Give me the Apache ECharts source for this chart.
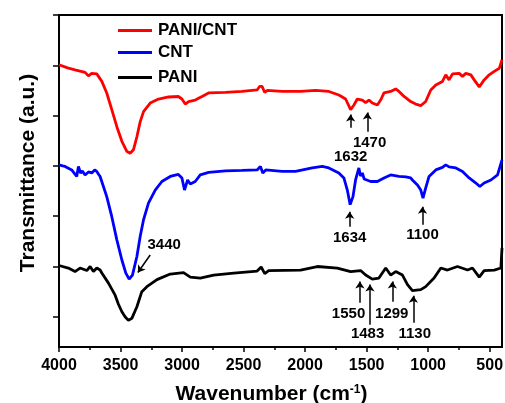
<!DOCTYPE html>
<html>
<head>
<meta charset="utf-8">
<script src="https://cdn.jsdelivr.net/npm/echarts@6/dist/echarts.min.js"></script>
<style>
html,body{margin:0;padding:0;background:#fff;}
#chart{width:505px;height:403px;}
</style>
</head>
<body>
<div id="chart"></div>
<script>
// ---- data (wavenumber, transmittance offset units) ----
var seriesNames = ['PANI/CNT', 'CNT', 'PANI'];
var seriesColors = ['#ff0000', '#0000ff', '#000000'];

var paniCntData = [[4000,5.01],[3930,4.95],[3870,4.91],[3788,4.86],[3761,4.79],[3734,4.84],[3693,4.83],[3652,4.68],[3612,4.45],[3571,4.12],[3530,3.78],[3489,3.49],[3449,3.29],[3422,3.25],[3395,3.32],[3367,3.58],[3340,3.88],[3313,4.08],[3259,4.25],[3191,4.33],[3110,4.37],[3030,4.38],[3001,4.33],[2974,4.23],[2947,4.28],[2893,4.31],[2838,4.38],[2784,4.45],[2648,4.46],[2512,4.48],[2390,4.51],[2370,4.58],[2350,4.58],[2328,4.46],[2309,4.50],[2187,4.48],[2037,4.48],[1915,4.50],[1807,4.48],[1726,4.41],[1671,4.33],[1630,4.12],[1603,4.21],[1576,4.33],[1535,4.31],[1508,4.26],[1481,4.31],[1454,4.25],[1413,4.21],[1386,4.31],[1359,4.45],[1305,4.48],[1264,4.53],[1237,4.48],[1196,4.38],[1142,4.28],[1101,4.23],[1060,4.20],[1046,4.17],[1020,4.28],[979,4.51],[938,4.61],[884,4.68],[857,4.81],[830,4.71],[802,4.83],[748,4.84],[721,4.78],[694,4.84],[653,4.81],[626,4.71],[585,4.57],[545,4.71],[504,4.81],[463,4.88],[422,4.94],[400,5.11]];

var cntData = [[4000,3.02],[3970,3.00],[3951,2.99],[3920,2.95],[3897,2.92],[3875,2.85],[3856,2.79],[3842,2.99],[3825,2.86],[3810,2.90],[3788,2.82],[3760,2.88],[3734,2.86],[3710,2.92],[3693,2.89],[3680,2.84],[3666,2.79],[3639,2.59],[3612,2.39],[3571,1.99],[3530,1.53],[3489,1.13],[3457,0.87],[3430,0.75],[3403,0.83],[3367,1.20],[3340,1.60],[3313,1.93],[3273,2.26],[3218,2.52],[3164,2.69],[3096,2.79],[3030,2.83],[3001,2.76],[2980,2.52],[2955,2.72],[2933,2.64],[2893,2.69],[2852,2.82],[2784,2.87],[2648,2.90],[2512,2.91],[2390,2.92],[2363,2.99],[2344,2.86],[2320,2.92],[2187,2.89],[2078,2.89],[1942,2.96],[1861,2.99],[1807,2.96],[1726,2.86],[1685,2.76],[1657,2.52],[1634,2.23],[1611,2.39],[1590,2.72],[1563,2.96],[1550,2.80],[1535,2.86],[1520,2.74],[1508,2.76],[1467,2.69],[1413,2.69],[1359,2.76],[1305,2.82],[1237,2.79],[1182,2.78],[1142,2.76],[1128,2.72],[1087,2.62],[1060,2.52],[1042,2.36],[1025,2.52],[993,2.79],[938,2.92],[884,2.97],[857,3.02],[830,2.98],[775,2.96],[721,2.89],[667,2.76],[612,2.66],[580,2.59],[545,2.66],[490,2.72],[436,2.82],[400,3.12]];

var paniData = [[4000,1.02],[3924,0.97],[3870,0.90],[3829,0.97],[3774,0.92],[3747,1.00],[3720,0.90],[3693,0.97],[3666,0.93],[3652,0.87],[3598,0.67],[3544,0.43],[3517,0.25],[3489,0.10],[3463,0.00],[3436,-0.07],[3408,-0.03],[3367,0.20],[3327,0.50],[3286,0.60],[3204,0.74],[3096,0.85],[2988,0.88],[2933,0.79],[2852,0.77],[2743,0.83],[2580,0.87],[2390,0.91],[2357,0.99],[2328,0.86],[2296,0.92],[2037,0.93],[1901,1.00],[1738,0.97],[1630,0.90],[1549,0.92],[1508,0.83],[1454,0.75],[1400,0.77],[1345,0.97],[1305,0.83],[1264,0.90],[1209,0.83],[1168,0.64],[1128,0.52],[1060,0.54],[1020,0.60],[952,0.77],[897,0.97],[843,0.93],[762,1.00],[680,0.93],[640,0.97],[585,0.79],[545,0.92],[463,0.93],[409,0.97],[400,1.37]];

var xMajorTicks = [500,1000,1500,2000,2500,3000,3500,4000];
var xMinorTicks = [750,1250,1750,2250,2750,3250,3750];
var yTicks = [0,1,2,3,4,5,6];

// annotations: arrow tail, arrow head, label text, label position
var annTail = [[1630,3.76],[1494,3.68],[1638,1.79],[1046,1.83],[3259,1.23],[1555,0.28],[1473,-0.16],[1291,0.30],[1120,-0.12]];
var annHead = [[1630,4.02],[1494,4.06],[1638,2.09],[1046,2.19],[3359,0.88],[1555,0.70],[1473,0.64],[1291,0.70],[1120,0.42]];
var annText = ['1632','1470','1634','1100','3440','1550','1483','1299','1130'];
var annTextPos = [[1630,3.18],[1476,3.46],[1638,1.57],[1046,1.63],[3145,1.43],[1647,0.06],[1492,-0.34],[1296,0.06],[1109,-0.34]];

var FONT = 'Liberation Sans, Arial, Helvetica, sans-serif';

var chart = echarts.init(document.getElementById('chart'), null, {renderer: 'canvas'});

var lineSeries = [paniCntData, cntData, paniData].map(function (d, i) {
  return {
    name: seriesNames[i],
    type: 'line',
    data: d,
    showSymbol: false,
    symbol: 'none',
    lineStyle: {color: seriesColors[i], width: 2.8},
    itemStyle: {color: seriesColors[i]},
    z: 3 - i + 2,
    silent: true,
    animation: false
  };
});

var arrowSeries = {
  type: 'lines',
  coordinateSystem: 'cartesian2d',
  xAxisIndex: 0,
  yAxisIndex: 0,
  symbol: ['none', 'arrow'],
  symbolSize: 7,
  lineStyle: {color: '#000', width: 1.5, opacity: 1},
  data: annTail.map(function (t, i) { return {coords: [t, annHead[i]]}; }),
  animation: false,
  silent: true,
  z: 6
};

var labelSeries = {
  type: 'scatter',
  xAxisIndex: 0,
  yAxisIndex: 0,
  symbolSize: 0,
  itemStyle: {opacity: 1, color: '#000'},
  data: annTextPos.map(function (p, i) { return [p[0], p[1], annText[i]]; }),
  label: {
    show: true,
    position: 'inside',
    formatter: function (p) { return p.value[2]; },
    color: '#000',
    opacity: 1,
    textBorderWidth: 0,
    fontFamily: FONT,
    fontWeight: 'bold',
    fontSize: 15
  },
  animation: false,
  silent: true,
  z: 7
};

function legendAt(name, top) {
  return {
    data: [name],
    left: 118,
    top: top,
    orient: 'vertical',
    padding: 0,
    itemWidth: 34,
    itemHeight: 3,
    itemGap: 0,
    icon: 'rect',
    selectedMode: false,
    textStyle: {fontFamily: FONT, fontWeight: 'bold', fontSize: 17, color: '#000', padding: [0, 0, 0, 1]}
  };
}

var option = {
  backgroundColor: '#fff',
  animation: false,
  legend: [legendAt('PANI/CNT', 22), legendAt('CNT', 44), legendAt('PANI', 69)],
  grid: {
    left: 59, right: 3, top: 15, bottom: 56,
    outerBoundsMode: 'none',
    containLabel: false,
    show: true, borderColor: '#000', borderWidth: 2, backgroundColor: 'transparent'
  },
  xAxis: [{
    type: 'value',
    min: 400, max: 4000,
    inverse: true,
    position: 'bottom',
    splitLine: {show: false},
    axisLine: {show: true, onZero: false, lineStyle: {color: '#000', width: 2}},
    axisTick: {show: true, inside: false, length: 5, customValues: xMajorTicks, lineStyle: {color: '#000', width: 1.5}},
    axisLabel: {show: true, customValues: xMajorTicks, formatter: function (v) { return String(v); }, margin: 11, color: '#000', fontFamily: FONT, fontWeight: 'bold', fontSize: 16},
    name: 'Wavenumber (cm{sup|-1})',
    nameLocation: 'middle',
    nameGap: 37,
    nameTextStyle: {
      fontFamily: FONT, fontWeight: 'bold', fontSize: 21, color: '#000',
      padding: [0, 18, 0, 0],
      rich: {sup: {fontFamily: FONT, fontWeight: 'bold', fontSize: 12, color: '#000', verticalAlign: 'top', padding: [0, 0, 9, 0]}}
    }
  }, {
    type: 'value',
    min: 400, max: 4000,
    inverse: true,
    position: 'bottom',
    splitLine: {show: false},
    axisLine: {show: false, onZero: false},
    axisTick: {show: true, inside: false, length: 3, customValues: xMinorTicks, lineStyle: {color: '#000', width: 1.5}},
    axisLabel: {show: false}
  }],
  yAxis: {
    type: 'value',
    min: -0.6, max: 6,
    splitLine: {show: false},
    axisLine: {show: true, onZero: false, lineStyle: {color: '#000', width: 2}},
    axisTick: {show: true, inside: false, length: 6, customValues: yTicks, lineStyle: {color: '#000', width: 1.5}},
    axisLabel: {show: false},
    name: 'Transmittance (a.u.)',
    nameLocation: 'middle',
    nameGap: 20,
    nameTextStyle: {fontFamily: FONT, fontWeight: 'bold', fontSize: 21, color: '#000', padding: [0, 0, 0, 16]}
  },
  series: lineSeries.concat([arrowSeries, labelSeries])
};

chart.setOption(option);
</script>
</body>
</html>
